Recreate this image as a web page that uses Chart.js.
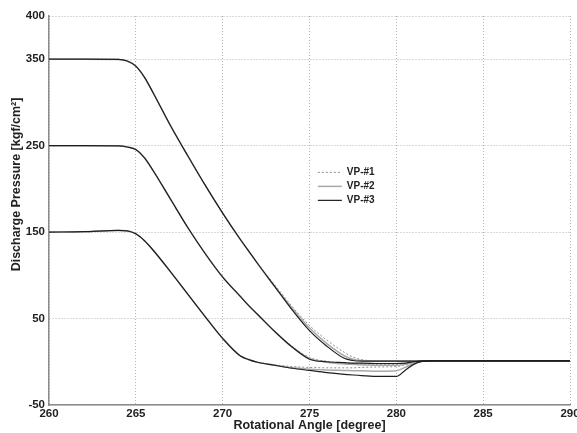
<!DOCTYPE html>
<html><head><meta charset="utf-8">
<script src="https://cdn.jsdelivr.net/npm/chart.js@4/dist/chart.umd.min.js"></script>
<style>html,body{margin:0;padding:0;background:#fff;}#wrap{width:577px;height:433px;}</style>
</head><body><div id="wrap"><canvas id="c" width="577" height="433"></canvas></div>
<script>
// ---- data ----
const angles = [260,262,264,264.5,265,265.5,266,267,268,269,270,271,271.5,272,273,274,275,276,277,277.5,278,279,280,280.5,281,281.5,282,285,290];
const xTicks = [260,265,270,275,280,285,290];
const yTicks = [-50,50,150,250,350,400];
const seriesLabels = ['VP-#1','VP-#2','VP-#3'];
const xTitle = 'Rotational Angle [degree]';
const yTitle = 'Discharge Pressure [kgf/cm\u00B2]';

const p350_vp3 = [350,350,349.8,348,342,329,311,273,238,204,172,142,128,114,87,60,36,18,4,1.5,0.8,0.7,0.7,0.7,0.8,1,1,1,1];
const p350_vp2 = [350,350,349.8,348,342,329,311,273,238,204,172,142,128,114,87,62,39,21,7,3,1.5,1,1,1,1,1,1,1,1];
const p350_vp1 = [350,350,349.8,348,342,329,311,273,238,204,172,142,128,114,89,64,42,25,11,5.5,2.5,1,1,1,1,1,1,1,1];

const p250_vp3 = [250,250,249.8,248.5,245.5,236,221,188,155,125,98,76,65,55,35,17,3,0,-1,-1.5,-1.5,-2,-2,-1.5,0,0.8,1,1,1];
const p250_vp2 = [250,250,249.8,248.5,245.5,236,221,188,155,125,98,76,65,55,35,17,4,-0.5,-2.5,-3,-3.5,-4,-4,-3,-0.5,0.8,1,1,1];
const p250_vp1 = [250,250,249.8,248.5,245.5,236,221,188,155,125,98,76,65,55,35,18,5,0.5,-1.5,-2,-2.5,-3,-3,-2,0,0.8,1,1,1];

const p150_vp3 = [150,150.5,152,151.5,148,140,129,104,78,52,27,7,2.5,-0.5,-4,-7.5,-10,-12.5,-14.5,-15.3,-16,-17,-17,-10,-3,0.5,1,1,1];
const p150_vp2 = [150,150.5,152,151.5,148,140,129,104,78,52,27,7,2.5,-0.5,-4,-7,-8.5,-9.5,-10,-10.3,-10.5,-11,-10.5,-6.5,-2,0.5,1,1,1];
const p150_vp1 = [150,150.5,152,151.5,148,140,129,104,78,52,27,7,2.5,-0.5,-3.5,-5.5,-6.5,-7,-7,-7,-6.5,-6,-5.5,-3.5,-1,0.5,1,1,1];

// ---- styles ----
const styles = [
  {borderColor:'#8a8a8a', borderWidth:1, borderDash:[2,2], order:2},
  {borderColor:'#a8a8a8', borderWidth:1.5, borderDash:[], order:1},
  {borderColor:'#1e1e1e', borderWidth:1.2, borderDash:[], order:0}
];
const curves = [
  [p350_vp1,p350_vp2,p350_vp3],
  [p250_vp1,p250_vp2,p250_vp3],
  [p150_vp1,p150_vp2,p150_vp3]
];
const toPts = arr => angles.map((a,i)=>({x:a,y:arr[i]}));

const datasets = [];
curves.forEach((grp,gi)=>{
  grp.forEach((vals,si)=>{
    datasets.push(Object.assign({
      label: seriesLabels[si],
      data: toPts(vals),
      pointRadius:0,
      fill:false,
      cubicInterpolationMode:'monotone'
    }, styles[si]));
  });
});

const FONT = 'Liberation Sans, Arial, Helvetica, sans-serif';
const LEGEND_X = 275.25, LEGEND_Y = 233;

const innerLegend = {
  id:'innerLegend',
  afterDatasetsDraw(chart){
    const {ctx, scales:{x,y}} = chart;
    const left = x.getPixelForValue(LEGEND_X);
    const top = y.getPixelForValue(LEGEND_Y);
    ctx.save();
    ctx.fillStyle = '#fff';
    ctx.fillRect(left, top, 74, 52);
    ctx.font = 'bold 10px ' + FONT;
    ctx.textBaseline = 'middle';
    seriesLabels.forEach((lab,i)=>{
      const yy = top + 12 + i*14;
      const st = styles[i];
      ctx.strokeStyle = st.borderColor;
      ctx.lineWidth = st.borderWidth;
      ctx.setLineDash(st.borderDash);
      ctx.beginPath(); ctx.moveTo(left+4, yy); ctx.lineTo(left+28, yy); ctx.stroke();
      ctx.setLineDash([]);
      ctx.fillStyle = '#222';
      ctx.fillText(lab, left+33, yy);
    });
    ctx.restore();
  }
};
const yTitlePlugin = {
  id:'yTitle',
  afterDraw(chart){
    const {ctx, chartArea} = chart;
    ctx.save();
    ctx.translate(17, (chartArea.top + chartArea.bottom)/2 - 26);
    ctx.rotate(-Math.PI/2);
    ctx.font = 'bold 12.5px ' + FONT;
    ctx.fillStyle = '#222';
    ctx.textAlign = 'center';
    ctx.textBaseline = 'middle';
    ctx.fillText(yTitle, 0, 0);
    ctx.restore();
  }
};

new Chart(document.getElementById('c'), {
  type:'line',
  data:{datasets},
  options:{
    responsive:false, animation:false, devicePixelRatio:1,
    layout:{padding:{top:16, right:7, left:0, bottom:0}},
    plugins:{legend:{display:false}, tooltip:{enabled:false}},
    scales:{
      x:{
        type:'linear', min:260, max:290,
        afterBuildTicks:s=>{s.ticks = xTicks.map(v=>({value:v}));},
        afterFit:s=>{s.height = 28; s.paddingLeft = 0; s.paddingRight = 0;},
        ticks:{font:{family:FONT, size:11.5, weight:'bold'}, color:'#222', padding:2, maxRotation:0, autoSkip:false},
        grid:{color:'#b4b4b4', lineWidth:1, drawTicks:false},
        border:{display:true, color:'#8c8c8c', width:1.5, dash:[1,2]},
        title:{display:true, text:xTitle, font:{family:FONT, size:12.5, weight:'bold'}, color:'#222', padding:{top:0,bottom:0}}
      },
      y:{
        type:'linear', min:-50, max:400,
        afterBuildTicks:s=>{s.ticks = yTicks.map(v=>({value:v}));},
        afterFit:s=>{s.width = 49; s.paddingTop = 0; s.paddingBottom = 0;},
        ticks:{font:{family:FONT, size:11.5, weight:'bold'}, color:'#222', padding:4, autoSkip:false},
        grid:{color:'#b4b4b4', lineWidth:1, drawTicks:false},
        border:{display:true, color:'#8c8c8c', width:1.5, dash:[1,2]}
      }
    }
  },
  plugins:[innerLegend, yTitlePlugin]
});
</script>
</body></html>
